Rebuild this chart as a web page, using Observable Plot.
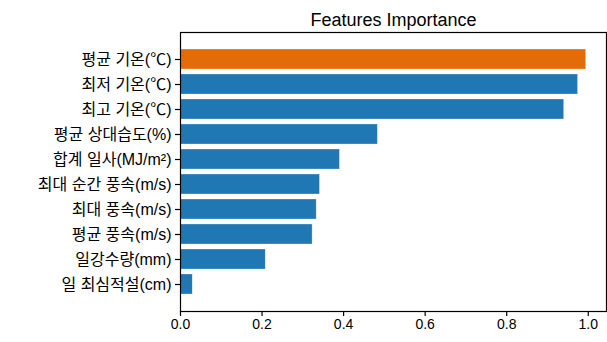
<!DOCTYPE html>
<html><head><meta charset="utf-8">
<script src="https://cdn.jsdelivr.net/npm/d3@7"></script>
<script src="https://cdn.jsdelivr.net/npm/@observablehq/plot@0.6"></script>
<style>body{margin:0;background:#fff}</style>
</head><body><div id="chart"></div>
<script>
const features = ["평균 기온(℃)", "최저 기온(℃)", "최고 기온(℃)", "평균 상대습도(%)", "합계 일사(MJ/m²)", "최대 순간 풍속(m/s)", "최대 풍속(m/s)", "평균 풍속(m/s)", "일강수량(mm)", "일 최심적설(cm)"];
const importance = [0.995, 0.975, 0.941, 0.484, 0.391, 0.342, 0.334, 0.324, 0.209, 0.030];
const xTicks = [0, 0.2, 0.4, 0.6, 0.8, 1.0];
const title = "Features Importance";
const highlight = features[0];
const data = features.map((f, i) => ({feature: f, value: importance[i]}));

const chart = Plot.plot({
  width: 607, height: 342,
  marginLeft: 180, marginRight: 1, marginTop: 32, marginBottom: 31,
  x: {domain: [0, d3.max(importance) * 1.05]},
  y: {domain: features, paddingInner: 0.2, paddingOuter: 0.49},
  style: {fontFamily: "'Liberation Sans','Noto Sans CJK KR',sans-serif", fontSize: "12px", color: "black", background: "white"},
  marks: [
    Plot.barX(data, {x: "value", y: "feature", fill: d => d.feature === highlight ? "#e36c0a" : "#1f77b4", stroke: "white", strokeOpacity: 0.5, strokeWidth: 0.6}),
    Plot.frame({stroke: "black", strokeWidth: 1.2}),
    Plot.axisX({ticks: xTicks, tickFormat: d3.format(".1f"), tickSize: 5, tickPadding: 3, fontSize: 14, label: null, strokeWidth: 1.2}),
    Plot.axisY({tickSize: 5, tickPadding: 4, fontSize: 16, label: null, strokeWidth: 1.2}),
    Plot.text([title], {frameAnchor: "top", dy: -7, lineAnchor: "bottom", fontSize: 18, fill: "black"})
  ]
});
document.getElementById("chart").append(chart);
</script>
</body></html>
